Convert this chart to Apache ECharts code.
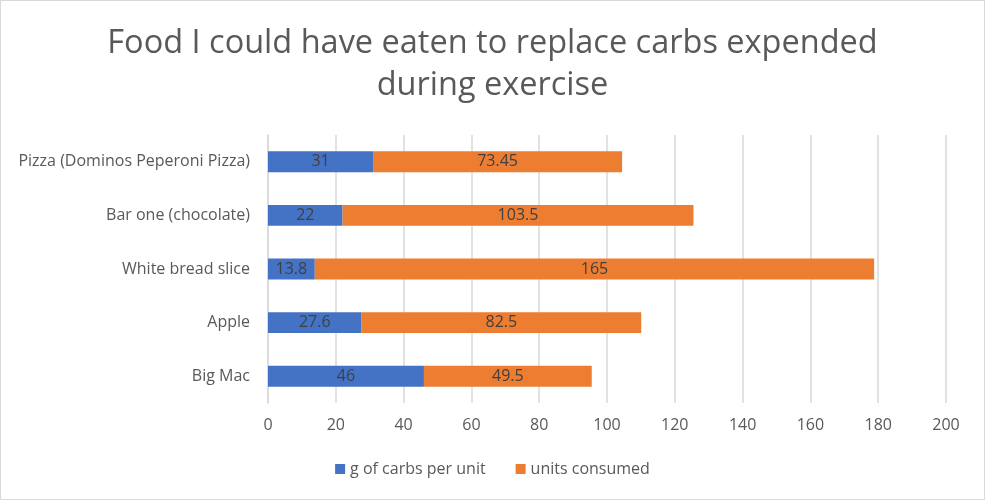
<!DOCTYPE html>
<html><head><meta charset="utf-8">
<script src="https://cdn.jsdelivr.net/npm/echarts@6/dist/echarts.min.js"></script>
<style>html,body{margin:0;padding:0;background:#fff}#c{width:985px;height:500px;box-sizing:border-box;border:1px solid #d9d9d9}</style>
</head><body><div id="c"></div>
<script>
const categories = ["Big Mac", "Apple", "White bread slice", "Bar one (chocolate)", "Pizza (Dominos Peperoni Pizza)"];
const carbsPerUnit = [46, 27.6, 13.8, 22, 31];
const unitsConsumed = [49.5, 82.5, 165, 103.5, 73.45];
const seriesNames = ["g of carbs per unit", "units consumed"];
const titleText = "Food I could have eaten to replace carbs expended\nduring exercise";

const font = "'Open Sans', 'Noto Sans', sans-serif";
const chart = echarts.init(document.getElementById('c'));
chart.setOption({
  animation: false,
  title: {
    text: titleText, left: 'center', top: 17,
    textStyle: {fontFamily: font, fontSize: 32.5, fontWeight: 'normal', color: '#595959', lineHeight: 42}
  },
  legend: {
    bottom: 17, left: 'center', itemWidth: 10, itemHeight: 10, itemGap: 30,
    icon: 'rect',
    textStyle: {fontFamily: font, fontSize: 16, color: '#595959'},
    data: seriesNames
  },
  grid: {left: 267, right: 38, top: 134, bottom: 96, containLabel: false},
  xAxis: {
    type: 'value', min: 0, max: 200, interval: 20,
    axisLine: {show: false}, axisTick: {show: false},
    axisLabel: {fontFamily: font, fontSize: 16, color: '#595959', margin: 14},
    splitLine: {lineStyle: {color: '#d9d9d9', width: 1.5}}
  },
  yAxis: {
    type: 'category', data: categories,
    axisLine: {show: true, lineStyle: {color: '#d9d9d9', width: 1.5}},
    axisTick: {show: false},
    axisLabel: {fontFamily: font, fontSize: 16, color: '#595959', margin: 18}
  },
  series: [
    {name: seriesNames[0], type: 'bar', stack: 's', data: carbsPerUnit, barWidth: '39%',
     itemStyle: {color: '#4472c4'},
     label: {show: true, position: 'inside', fontFamily: font, fontSize: 16, color: '#404040'}},
    {name: seriesNames[1], type: 'bar', stack: 's', data: unitsConsumed, barWidth: '39%',
     itemStyle: {color: '#ed7d31'},
     label: {show: true, position: 'inside', fontFamily: font, fontSize: 16, color: '#404040'}}
  ]
});
</script></body></html>
